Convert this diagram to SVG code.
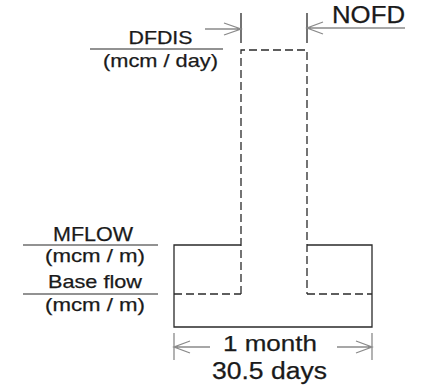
<svg xmlns="http://www.w3.org/2000/svg" width="422" height="385" viewBox="0 0 422 385">
<style>
.t{font-family:"Liberation Sans",Arial,sans-serif;fill:#1a1a1a;text-anchor:middle;stroke:#1a1a1a;stroke-width:0.25}
.s{fill:none;stroke:#2a2a2a;stroke-width:1.3}
.d{fill:none;stroke:#2a2a2a;stroke-width:1.3;stroke-dasharray:8 4}
.u{fill:none;stroke:#6e6e6e;stroke-width:1.4}
.a{fill:none;stroke:#8a8a8a;stroke-width:1.3}
</style>
<rect width="422" height="385" fill="#fff"/>
<g id="flow-shape">
<path class="s" d="M241,245 H174 V327 H372 V245 H307"/>
<path class="d" d="M241,294 V50 H307 V294"/>
<path class="d" d="M174,294 H241 M307,294 H372"/>
<path class="s" d="M241,13 V43 M307,13 V43"/>
</g>
<g id="labels-left">
<text class="t" x="160.5" y="44" font-size="18.5" textLength="64" lengthAdjust="spacingAndGlyphs">DFDIS</text>
<line class="u" x1="90" y1="49" x2="223" y2="49"/>
<text class="t" x="160.5" y="67" font-size="19" textLength="115" lengthAdjust="spacingAndGlyphs">(mcm / day)</text>
<text class="t" x="93" y="241" font-size="20" textLength="80" lengthAdjust="spacingAndGlyphs">MFLOW</text>
<line class="u" x1="23" y1="245" x2="158" y2="245"/>
<text class="t" x="95" y="262" font-size="19" textLength="100" lengthAdjust="spacingAndGlyphs">(mcm / m)</text>
<text class="t" x="95" y="288" font-size="19" textLength="94" lengthAdjust="spacingAndGlyphs">Base flow</text>
<line class="u" x1="23" y1="294" x2="158" y2="294"/>
<text class="t" x="95" y="311" font-size="19" textLength="100" lengthAdjust="spacingAndGlyphs">(mcm / m)</text>
</g>
<g id="label-nofd">
<text class="t" x="368.5" y="23" font-size="23.5" textLength="73" lengthAdjust="spacingAndGlyphs">NOFD</text>
</g>
<g id="label-month">
<text class="t" x="270" y="351" font-size="22.5" textLength="94" lengthAdjust="spacingAndGlyphs">1 month</text>
<text class="t" x="269.5" y="379" font-size="23" textLength="115" lengthAdjust="spacingAndGlyphs">30.5 days</text>
</g>
<g id="connectors">
<path class="a" d="M205,29 H241 M224,23 L241,29 L224,35"/>
<path class="a" d="M405,28 H307 M323,22 L307,28 L323,34"/>
<path class="a" d="M174,333 V360 M372,333 V360"/>
<path class="a" d="M210,347 H174 M190,341 L174,347 L190,353"/>
<path class="a" d="M337,347 H372 M356,341 L372,347 L356,353"/>
</g>
</svg>
